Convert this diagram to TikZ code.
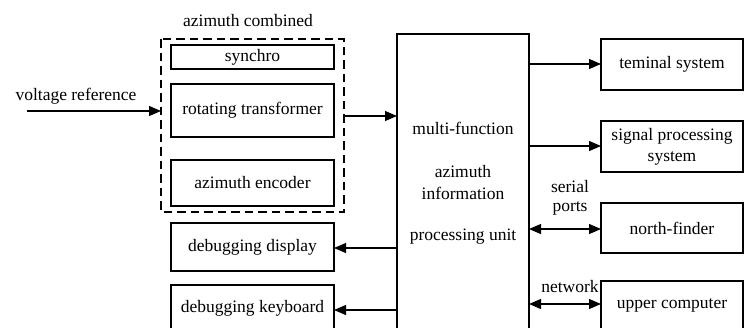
\documentclass[tikz,border=0pt]{standalone}
\usepackage{fontspec}
\setmainfont{Liberation Serif}
\usetikzlibrary{arrows.meta}
\begin{document}
\begin{tikzpicture}[x=1pt,y=-1pt,
  every node/.style={font=\fontsize{17.5}{20}\selectfont},
  blk/.style={draw,line width=1.7pt,inner sep=0pt},
  conn/.style={line width=1.1pt,-{Triangle[length=12pt,width=10pt]}},
  biconn/.style={line width=1.1pt,{Triangle[length=12pt,width=10pt]}-{Triangle[length=12pt,width=10pt]}},
  lbl/.style={inner sep=0pt,align=center}]
\useasboundingbox (0,0) rectangle (747,327);
% azimuth combined group
\node[lbl] (grp) at (248,21) {azimuth combined};
\draw[line width=1.7pt,dash pattern=on 8.5pt off 5pt] (161,39) rectangle (344,212);
\coordinate (grpL) at (161,111);
\coordinate (grpR) at (344,116);
\draw[blk] (171,45) rectangle (334,69) node[midway] (syn) {synchro};
\draw[blk] (171,84) rectangle (334,137) node[midway] (rot) {rotating transformer};
\draw[blk] (171,160) rectangle (334,206) node[midway] (enc) {azimuth encoder};
% debugging boxes
\draw[blk] (171,223) rectangle (334,271) node[midway] (dd) {debugging display};
\draw[blk] (171,285) rectangle (334,340) node[midway] (dk) {};
\node[lbl] (dkt) at (252.5,308) {debugging keyboard};
% main unit
\draw[line width=1.1pt] (397,34) -- (397,340) -- (529,340) -- (529,34) -- cycle;
\node[lbl] (m1) at (463,128) {multi-function};
\node[lbl] (m2) at (463,172) {azimuth};
\node[lbl] (m3) at (463,193) {information};
\node[lbl] (m4) at (463,237) {processing unit};
% right boxes
\draw[blk] (601,39) rectangle (743,90) node[midway] (ts) {teminal system};
\draw[blk] (601,121) rectangle (743,172) node[midway,align=center,font=\fontsize{17.5}{21}\selectfont] (sp) {signal processing\\system};
\draw[blk] (601,203) rectangle (743,253) node[midway] (nf) {north-finder};
\draw[blk] (601,281) rectangle (743,340) node[midway] (uc) {};
\node[lbl] (uct) at (672,305) {upper computer};
% input
\node[lbl] (vr) at (76,96) {voltage reference};
\coordinate (vin) at (27,111);
\draw[conn] (vin) -- (grpL);
\draw[conn] (grpR) -- (397,116);
% outputs
\draw[conn] (529,64) -- (601,64);
\draw[conn] (529,146) -- (601,146);
\draw[biconn] (529,229) -- (601,229);
\draw[biconn] (529,304) -- (601,304);
\draw[conn] (397,248) -- (334,248);
\draw[conn] (397,310) -- (334,310);
\node[lbl] (sp1) at (570,187) {serial};
\node[lbl] (sp2) at (570,208) {ports};
\node[lbl] (nw) at (570,287) {network};
\end{tikzpicture}
\end{document}
